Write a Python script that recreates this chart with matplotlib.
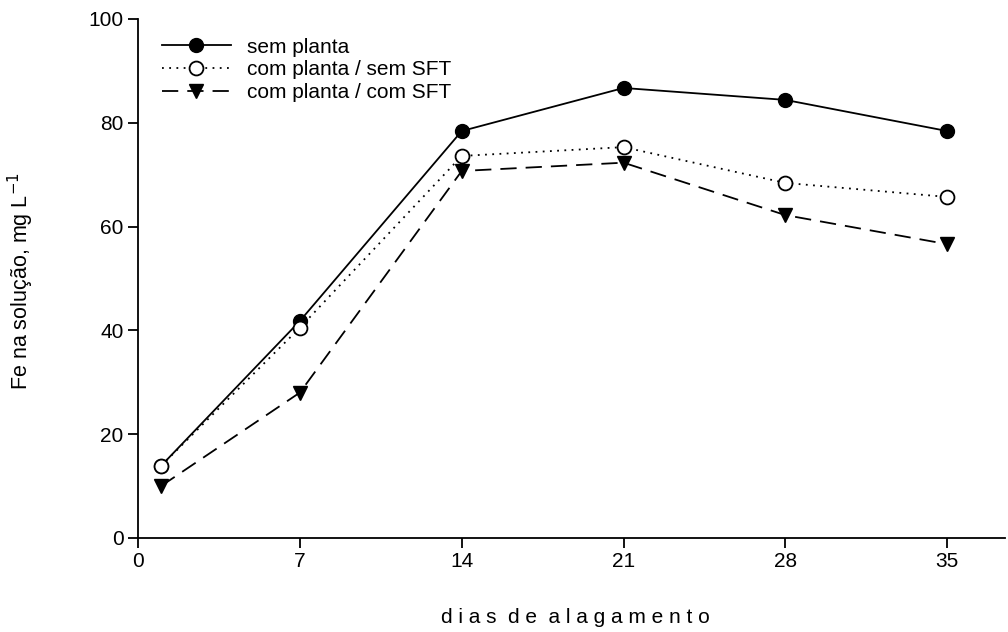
import numpy as np
from matplotlib import pyplot as plt

plt.rcParams['font.family'] = ['Liberation Sans', 'DejaVu Sans']

# dias de alagamento
dias = [1, 7, 14, 21, 28, 35]
sem_planta = [13.9, 41.8, 78.4, 86.7, 84.4, 78.4]
com_planta_sem_sft = [13.9, 40.5, 73.6, 75.3, 68.4, 65.7]
com_planta_com_sft = [10.0, 28.0, 70.7, 72.3, 62.2, 56.6]

x_ticks = [0, 7, 14, 21, 28, 35]
y_ticks = [0, 20, 40, 60, 80, 100]

fig = plt.figure(figsize=(10.08, 6.32), dpi=100)
ax = fig.add_axes([0.137, 0.149, 0.86, 0.821])

ax.plot(dias, sem_planta, color='black', lw=1.3, marker='o', ms=10,
        mfc='black', mec='black', label='sem planta')
ax.plot(dias, com_planta_sem_sft, color='black', lw=1.3, ls=(0, (1, 3)),
        marker='o', ms=10, mfc='white', mec='black', mew=1.3,
        label='com planta / sem SFT')
ax.plot(dias, com_planta_com_sft, color='black', lw=1.3, ls=(0, (9, 5)),
        marker='v', ms=10, mfc='black', mec='black',
        label='com planta / com SFT')

ax.set_xlim(0, 37.5)
ax.set_ylim(0, 100)
ax.set_xticks(x_ticks)
ax.set_yticks(y_ticks)
ax.tick_params(labelsize=15, width=1.3, length=7, direction='out')
for s in ['top', 'right']:
    ax.spines[s].set_visible(False)
for s in ['left', 'bottom']:
    ax.spines[s].set_linewidth(1.3)

ax.set_xlabel('d i a s  d e  a l a g a m e n t o', fontsize=15)
ax.xaxis.set_label_coords(0.504, -0.135)
ax.set_ylabel('Fe na solução, mg L$^{-1}$', fontsize=15.5)
ax.yaxis.set_label_coords(-0.118, 0.495)

ax.legend(loc='upper left', bbox_to_anchor=(0.018, 0.98), frameon=False,
          fontsize=15, handlelength=3.3, handletextpad=0.8,
          labelspacing=0.18, borderaxespad=0)

fig.savefig('out.png', dpi=100)
